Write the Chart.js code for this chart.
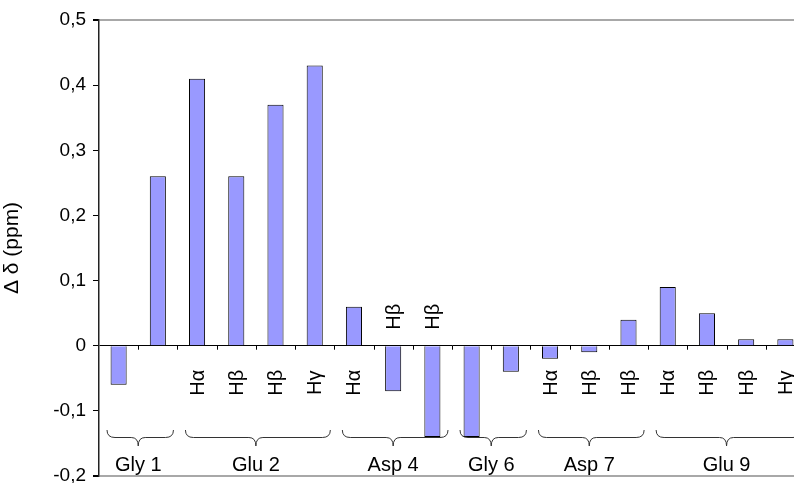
<!DOCTYPE html>
<html>
<head>
<meta charset="utf-8">
<script src="https://cdn.jsdelivr.net/npm/chart.js@4/dist/chart.umd.min.js"></script>
<style>
  html, body { margin: 0; padding: 0; background: #fff; overflow: hidden; }
  canvas { display: block; }
</style>
</head>
<body>
<canvas id="shiftChart" width="805" height="483"></canvas>
<script>
// proton labels under each bar, one per bar
const protons = ['', '', 'Hα', 'Hβ', 'Hβ', 'Hγ', 'Hα', 'Hβ', 'Hβ', '', '', 'Hα', 'Hβ', 'Hβ', 'Hα', 'Hβ', 'Hβ', 'Hγ'];
// chemical shift differences (ppm)
const deltas = [-0.06, 0.26, 0.41, 0.26, 0.37, 0.43, 0.06, -0.07, -0.14, -0.14, -0.04, -0.02, -0.01, 0.04, 0.09, 0.05, 0.01, 0.01];
// residues and how many bars belong to each
const residues = ['Gly 1', 'Glu 2', 'Asp 4', 'Gly 6', 'Asp 7', 'Glu 9'];
const residueSizes = [2, 4, 3, 2, 3, 4];
const yTicks = [-0.2, -0.1, 0, 0.1, 0.2, 0.3, 0.4, 0.5];

const FONT = '"Liberation Sans", Arial, sans-serif';
const fmt = v => String(Math.round(v * 10) / 10).replace('.', ',');

// proton names, braces and residue names under the zero line
const residueLabels = {
  id: 'residueLabels',
  afterDatasetsDraw(chart) {
    const ctx = chart.ctx;
    const x = chart.scales.x;
    const y = chart.scales.y;
    const y0 = y.getPixelForValue(0);
    const step = x.getPixelForValue(1) - x.getPixelForValue(0);
    ctx.save();

    // small ticks at category boundaries
    ctx.strokeStyle = '#000';
    ctx.lineWidth = 1;
    ctx.beginPath();
    for (let i = 1; i < deltas.length; i++) {
      const bx = Math.round(x.getPixelForValue(i) - step / 2) + 0.5;
      ctx.moveTo(bx, y0);
      ctx.lineTo(bx, y0 + 4);
    }
    ctx.stroke();

    // rotated proton names
    ctx.fillStyle = '#000';
    ctx.font = '20px ' + FONT;
    ctx.textAlign = 'center';
    ctx.textBaseline = 'middle';
    protons.forEach((p, i) => {
      if (!p) return;
      const px = x.getPixelForValue(i);
      const py = deltas[i] <= -0.05 ? y0 - 29 : y0 + 37;
      ctx.save();
      ctx.translate(px + 1, py);
      ctx.rotate(-Math.PI / 2);
      ctx.fillText(p, 0, 0);
      ctx.restore();
    });

    // braces and residue names
    let start = 0;
    ctx.strokeStyle = '#333';
    ctx.lineWidth = 1;
    ctx.font = '20px ' + FONT;
    residues.forEach((name, g) => {
      const end = start + residueSizes[g] - 1;
      const x0 = x.getPixelForValue(start) - step / 2 + 8;
      const x1 = x.getPixelForValue(end) + step / 2 - 4;
      const xm = (x.getPixelForValue(start) + x.getPixelForValue(end)) / 2;
      const top = 430, mid = 437.5, tip = 446;
      ctx.beginPath();
      ctx.moveTo(x0, top);
      ctx.quadraticCurveTo(x0, mid, x0 + 8, mid);
      ctx.lineTo(xm - 7, mid);
      ctx.quadraticCurveTo(xm, mid, xm, tip);
      ctx.quadraticCurveTo(xm, mid, xm + 7, mid);
      ctx.lineTo(x1 - 8, mid);
      ctx.quadraticCurveTo(x1, mid, x1, top);
      ctx.stroke();
      ctx.fillText(name, xm, 465);
      start = end + 1;
    });
    ctx.restore();
  }
};

new Chart(document.getElementById('shiftChart'), {
  type: 'bar',
  data: {
    labels: protons,
    datasets: [{
      data: deltas,
      backgroundColor: '#9999ff',
      borderColor: '#000',
      borderWidth: 1,
      barPercentage: 0.41,
      categoryPercentage: 1
    }]
  },
  options: {
    responsive: false,
    animation: false,
    layout: { padding: { top: 20, bottom: 7, left: 0, right: 0 } },
    plugins: { legend: { display: false }, tooltip: { enabled: false } },
    scales: {
      x: { display: false },
      y: {
        min: -0.2,
        max: 0.5,
        afterFit: s => {
          s.width = 99;
          // plot area is fixed by layout padding, not by the label heights
          s.paddingTop = 0;
          s.paddingBottom = 0;
        },
        afterBuildTicks: s => { s.ticks = yTicks.map(v => ({ value: v })); },
        ticks: {
          color: '#000',
          padding: 7,
          font: { family: FONT, size: 19 },
          callback: v => fmt(v)
        },
        grid: {
          color: c => {
            const v = c.tick ? Math.round(c.tick.value * 10) : null;
            if (v === 0) return '#000';
            if (v === 5 || v === -2) return '#a8a8a8';
            return 'rgba(0,0,0,0)';
          },
          lineWidth: c => (c.tick && [5, -2].includes(Math.round(c.tick.value * 10))) ? 2 : 1,
          tickColor: '#000',
          tickLength: 6
        },
        border: { display: true, color: '#222', width: 1.5 },
        title: {
          display: true,
          text: 'Δ δ (ppm)',
          color: '#000',
          padding: { top: 0, bottom: 2 },
          font: { family: FONT, size: 21 }
        }
      }
    }
  },
  plugins: [residueLabels]
});
</script>
</body>
</html>
